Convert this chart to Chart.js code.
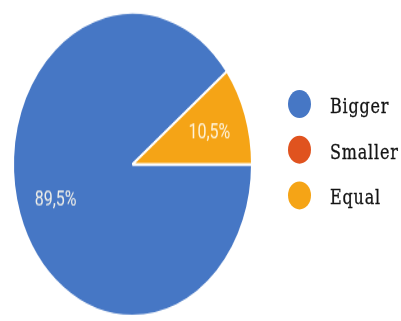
<!DOCTYPE html>
<html>
<head>
<meta charset="utf-8">
<script src="https://cdn.jsdelivr.net/npm/chart.js@4"></script>
<style>
  html, body { margin: 0; padding: 0; background: #fff; }
  #stage {
    position: absolute; left: 0; top: 0;
    width: 401px; height: 253px;
    transform: scaleY(1.269); transform-origin: 0 0;
  }
  #chartBox { position: absolute; left: 0; top: 0; width: 401px; height: 253px; }
  #legend {
    position: absolute; left: 288px; top: 64px;
    list-style: none; margin: 0; padding: 0;
    font-family: "DejaVu Serif", serif; font-size: 16px;
    letter-spacing: 0.8px; color: #151515;
    -webkit-text-stroke: 0.25px #151515;
  }
  #legend li { display: flex; align-items: center; height: 36px; }
  #legend .dot {
    width: 23px; height: 22px; border-radius: 50%;
    margin-right: 19px; filter: blur(0.6px);
  }
  #legend .txt { position: relative; top: 1px; }
</style>
</head>
<body>
<div id="stage">
  <div id="chartBox"><canvas id="myChart"></canvas></div>
  <ul id="legend"></ul>
</div>
<script>
const categories = ["Bigger", "Smaller", "Equal"];
const shares = [89.5, 0, 10.5];
const colors = ["#4677c5", "#e0531f", "#f5a416"];

// percentage text inside each slice, placed along the arc's middle angle
const sliceLabels = {
  id: "sliceLabels",
  afterDatasetsDraw(chart) {
    const ctx = chart.ctx;
    const meta = chart.getDatasetMeta(0);
    ctx.save();
    ctx.font = '16px Roboto, "Liberation Sans", sans-serif';
    ctx.fillStyle = "rgba(255, 250, 235, 0.92)";
    ctx.textAlign = "center";
    ctx.textBaseline = "middle";
    meta.data.forEach((arc, i) => {
      const value = chart.data.datasets[0].data[i];
      if (!value) return;
      const p = arc.getProps(["x", "y", "startAngle", "endAngle", "outerRadius"], true);
      const mid = (p.startAngle + p.endAngle) / 2;
      const r = p.outerRadius * 0.68;
      ctx.fillText(value.toFixed(1).replace(".", ",") + "%",
        p.x + Math.cos(mid) * r, p.y + Math.sin(mid) * r + 2);
    });
    ctx.restore();
  }
};

const ctx = document.getElementById("myChart").getContext("2d");

const chart = new Chart(ctx, {
  type: "pie",
  data: {
    labels: categories,
    datasets: [
      {
        data: shares,
        backgroundColor: colors,
        borderColor: "#ffffff",
        borderWidth: 2,
      },
    ],
  },
  options: {
    responsive: true,
    maintainAspectRatio: false,
    animation: false,
    rotation: 90,
    layout: { padding: { left: 12, right: 148, top: 9, bottom: 3 } },
    plugins: {
      legend: { display: false },
      tooltip: { enabled: false },
    },
  },
  plugins: [sliceLabels],
});

// legend list built from the chart's own labels and colours
const legendEl = document.getElementById("legend");
chart.data.labels.forEach((label, i) => {
  const li = document.createElement("li");
  const dot = document.createElement("span");
  dot.className = "dot";
  dot.style.background = chart.data.datasets[0].backgroundColor[i];
  const txt = document.createElement("span");
  txt.className = "txt";
  txt.textContent = label;
  li.appendChild(dot);
  li.appendChild(txt);
  legendEl.appendChild(li);
});
</script>
</body>
</html>
